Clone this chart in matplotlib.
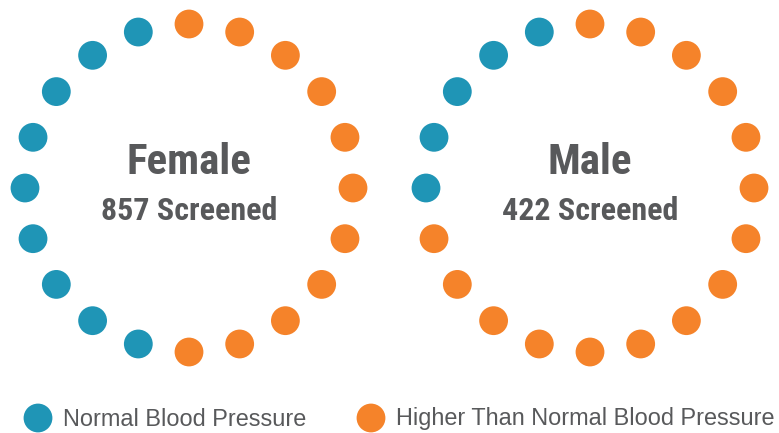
import numpy as np
import matplotlib.pyplot as plt

# data
groups = ["Female", "Male"]
screened = [857, 422]
normal_dots = [9, 5]          # of 20 dots per ring
n_dots = 20
legend_labels = ["Normal Blood Pressure", "Higher Than Normal Blood Pressure"]

BLUE = "#1f95b6"
ORANGE = "#f5832a"
GREY = "#58595b"
BOLD = ["Roboto Condensed", "Liberation Sans Narrow", "Liberation Sans", "DejaVu Sans"]
REG = ["Liberation Sans", "DejaVu Sans"]

fig = plt.figure(figsize=(7.79, 4.33), dpi=100)
ax = fig.add_axes([0, 0, 1, 1])
ax.set_xlim(0, 779)
ax.set_ylim(433, 0)
ax.axis("off")

centers = [(189, 188), (590, 188)]
radius = 164

for (cx, cy), name, n, k in zip(centers, groups, screened, normal_dots):
    ang = np.deg2rad(90 + 18 * np.arange(n_dots))
    xs = cx + radius * np.cos(ang)
    ys = cy - radius * np.sin(ang)
    cols = [BLUE if 1 <= i <= k else ORANGE for i in range(n_dots)]
    ax.scatter(xs, ys, s=430, c=cols, edgecolors="none")
    ax.text(cx, 163, name, ha="center", va="center", fontsize=31,
            fontweight="bold", color=GREY, family=BOLD)
    ax.text(cx, 211, f"{n} Screened", ha="center", va="center", fontsize=23,
            fontweight="bold", color=GREY, family=BOLD)

# legend
for x0, lab, col in zip([38, 371], legend_labels, [BLUE, ORANGE]):
    ax.scatter([x0], [418], s=430, c=col, edgecolors="none")
    ax.text(x0 + 25, 419, lab, ha="left", va="center", fontsize=16.9,
            color=GREY, family=REG)

fig.savefig("out.png", dpi=100)
